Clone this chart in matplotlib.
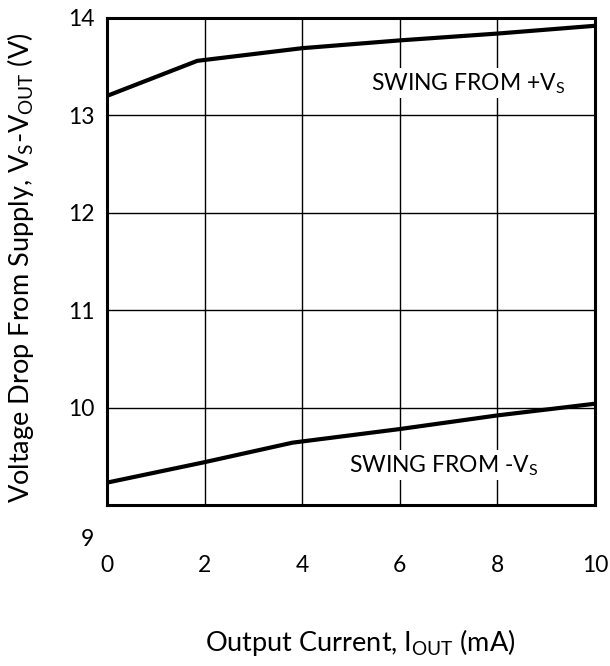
import numpy as np
import matplotlib
matplotlib.use("Agg")
import matplotlib.pyplot as plt
import matplotlib.transforms as mtransforms

plt.rcParams["font.family"] = ["Lato", "DejaVu Sans"]
plt.rcParams["mathtext.fontset"] = "custom"
plt.rcParams["mathtext.rm"] = "Lato"

# output current (mA) vs. voltage drop from each supply rail (V)
i_pos = [0, 1.85, 4, 6, 8, 10]
v_pos = [13.2, 13.56, 13.69, 13.77, 13.84, 13.92]
i_neg = [0, 2, 3.8, 6, 8, 10]
v_neg = [9.23, 9.44, 9.64, 9.78, 9.92, 10.04]

xticks = [0, 2, 4, 6, 8, 10]
yticks = [9, 10, 11, 12, 13, 14]

fs = 16.5
fs_lab = 19.5

fig = plt.figure(figsize=(6.1, 6.66), dpi=100)
ax = fig.add_axes([0.1754, 0.2417, 0.8, 0.7313])

ax.plot(i_pos, v_pos, color="black", lw=3, solid_capstyle="butt", zorder=3)
ax.plot(i_neg, v_neg, color="black", lw=3, solid_capstyle="butt", zorder=3)

ax.set_xlim(0, 10)
ax.set_ylim(9, 14)
ax.set_xticks(xticks)
ax.set_yticks(yticks)
ax.grid(True, color="black", lw=1)
ax.tick_params(length=0, labelsize=fs)
ax.tick_params(axis="x", pad=36)
ax.tick_params(axis="y", pad=9)
for s in ax.spines.values():
    s.set_linewidth(2.2)

# the bottom "9" label sits below the frame
lab9 = ax.get_yticklabels()[0]
lab9.set_transform(lab9.get_transform()
                   + mtransforms.ScaledTranslation(0, -0.32, fig.dpi_scale_trans))

ax.text(7.4, 13.33, r"SWING FROM +V$_\mathrm{S}$", ha="center", va="center",
        fontsize=fs, zorder=2,
        bbox=dict(facecolor="white", edgecolor="none", pad=2))
ax.text(6.9, 9.41, r"SWING FROM -V$_\mathrm{S}$", ha="center", va="center",
        fontsize=fs, zorder=2,
        bbox=dict(facecolor="white", edgecolor="none", pad=2))

ax.set_xlabel(r"Output Current, I$_\mathrm{OUT}$ (mA)", fontsize=fs_lab, va="center")
ax.xaxis.set_label_coords(0.52, -0.283)
ax.set_ylabel(r"Voltage Drop From Supply, V$_\mathrm{S}$-V$_\mathrm{OUT}$ (V)",
              fontsize=fs_lab, va="center")
ax.yaxis.set_label_coords(-0.178, 0.488)

fig.savefig("out.png", dpi=100)
